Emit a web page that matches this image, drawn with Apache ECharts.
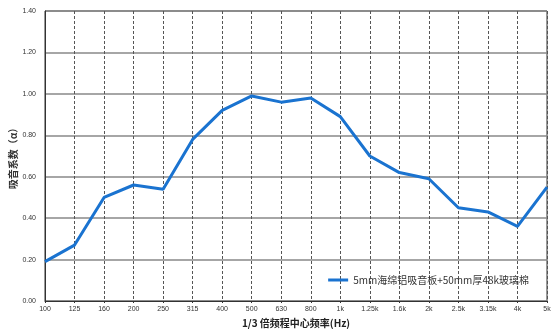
<!DOCTYPE html>
<html><head><meta charset="utf-8">
<script src="https://cdn.jsdelivr.net/npm/echarts@6/dist/echarts.min.js"></script>
<style>html,body{margin:0;padding:0;background:#fff}#c{width:560px;height:330px}</style>
</head><body><div id="c"></div>
<script>
const categories = ['100','125','160','200','250','315','400','500','630','800','1k','1.25k','1.6k','2k','2.5k','3.15k','4k','5k'];
const absorption = [0.19,0.27,0.50,0.56,0.54,0.78,0.92,0.99,0.96,0.98,0.89,0.70,0.62,0.59,0.45,0.43,0.36,0.55];
const seriesName = '5mm海绵铝吸音板+50mm厚48k玻璃棉';
const yTicks = [0,0.2,0.4,0.6,0.8,1.0,1.2,1.4];

const chart = echarts.init(document.getElementById('c'), null, {renderer:'canvas'});
chart.setOption({
  backgroundColor:'#fff',
  animation:false,
  grid:{left:45, right:13, top:11, bottom:29, show:true, borderColor:'#333', borderWidth:1,
    containLabel:false, outerBoundsMode:'none'},
  legend:{
    data:[seriesName], right:26, bottom:40, itemWidth:20, itemHeight:3, itemGap:3,
    icon:'rect',
    textStyle:{fontFamily:'Noto Sans CJK SC', fontSize:10, color:'#333'}
  },
  xAxis:{
    type:'category', data:categories, boundaryGap:false,
    name:'1/3 倍频程中心频率(Hz)', nameLocation:'middle', nameGap:16,
    nameTextStyle:{fontFamily:'Noto Sans CJK SC', fontSize:10, fontWeight:'bold', color:'#222'},
    axisLine:{lineStyle:{color:'#333', width:1}},
    axisTick:{show:true, inside:false, length:2, alignWithLabel:true, lineStyle:{color:'#333'}},
    axisLabel:{fontFamily:'Liberation Sans', fontSize:7, color:'#333', margin:5, interval:0},
    splitLine:{show:true, lineStyle:{color:'#555', type:[3,2], width:1}}
  },
  yAxis:{
    type:'value', min:0, max:1.4, interval:0.2,
    name:'吸音系数（α）', nameLocation:'middle', nameGap:27, nameRotate:90, nameMoveOverlap:false,
    nameTextStyle:{fontFamily:'Noto Sans CJK SC', fontSize:10, fontWeight:'bold', color:'#333'},
    axisLine:{show:true, lineStyle:{color:'#333', width:1}},
    axisTick:{show:false},
    axisLabel:{fontFamily:'Liberation Sans', fontSize:7, color:'#333', margin:9,
      formatter:v=>v.toFixed(2)},
    splitLine:{show:true, lineStyle:{color:'#888', width:1.5}}
  },
  series:[{
    name:seriesName, type:'line', data:absorption, symbol:'none',
    lineStyle:{color:'#1a73d0', width:3}, itemStyle:{color:'#1a73d0'}
  }]
});
</script></body></html>
